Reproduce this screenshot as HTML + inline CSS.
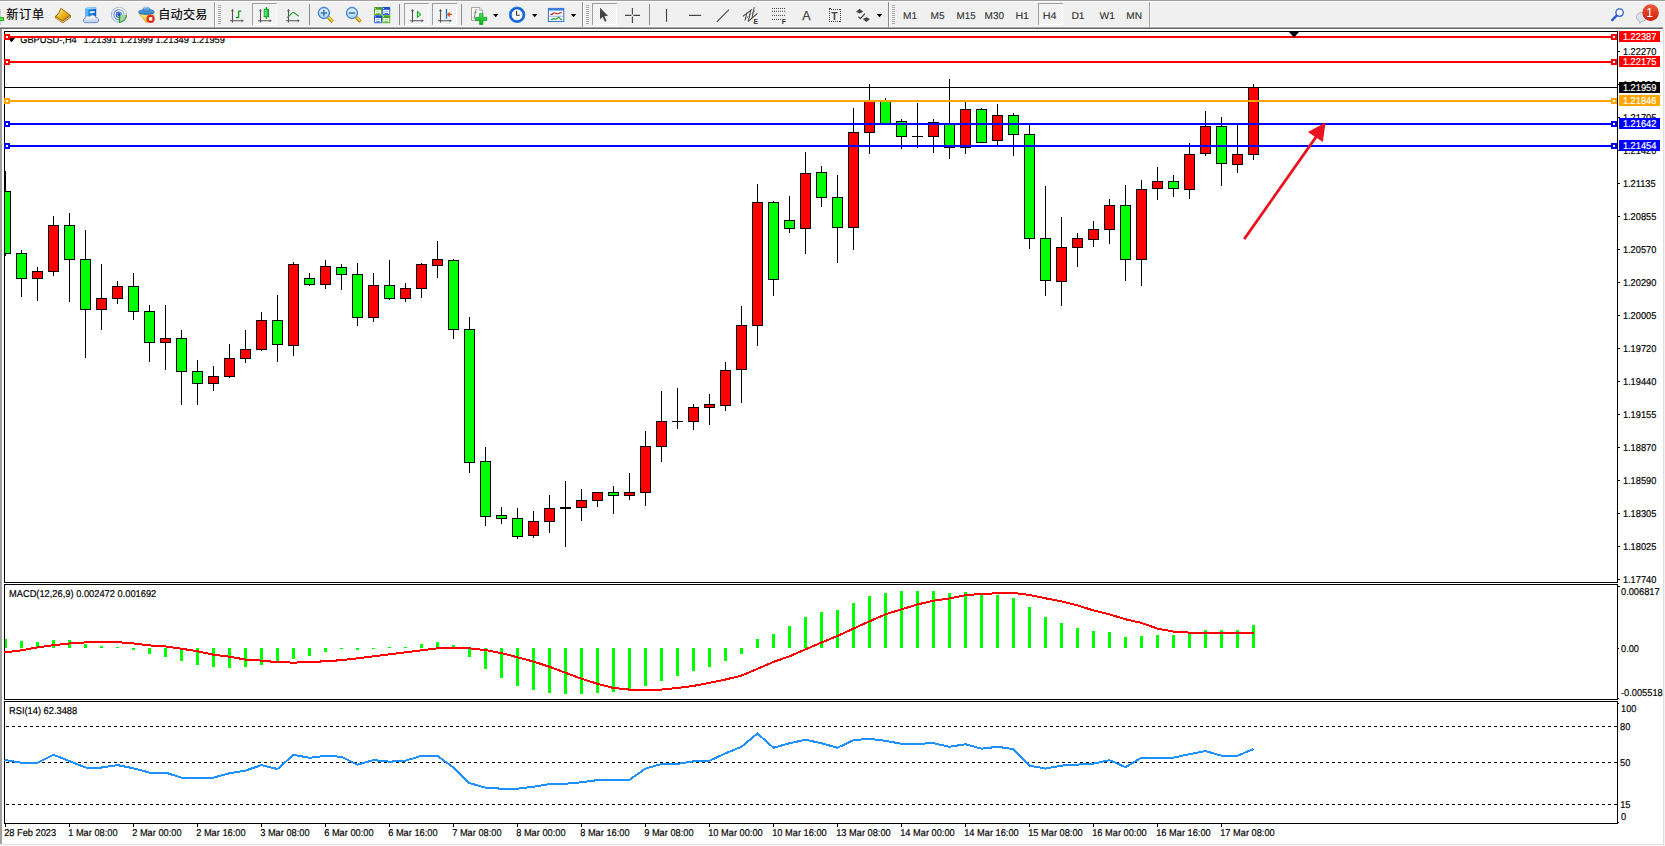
<!DOCTYPE html>
<html lang="zh-CN">
<head>
<meta charset="utf-8">
<title>GBPUSD-,H4</title>
<style>
html,body{margin:0;padding:0;background:#fff;}
body{width:1665px;height:846px;position:relative;overflow:hidden;font-family:"Liberation Sans","Noto Sans CJK SC",sans-serif;}
svg text{white-space:pre;}
</style>
</head>
<body>
<svg width="1665" height="846" viewBox="0 0 1665 846" style="position:absolute;left:0;top:0" font-family="'Liberation Sans','Noto Sans CJK SC',sans-serif">
<g shape-rendering="crispEdges">
<rect x="0" y="0" width="1665" height="846" fill="#fff"/>
<rect x="0" y="29" width="2" height="815" fill="#a0a0a0"/>
<rect x="1663" y="29" width="1" height="816" fill="#dedede"/>
<rect x="1664" y="29" width="1" height="817" fill="#f4f4f4"/>
<rect x="0" y="844" width="1663" height="1" fill="#e3e3e3"/>
<rect x="0" y="845" width="1665" height="1" fill="#f7f7f7"/>
<rect x="4" y="31" width="1614" height="1" fill="#000"/>
<rect x="4" y="582" width="1614" height="1" fill="#000"/>
<rect x="4" y="31" width="1" height="552" fill="#000"/>
<rect x="1617" y="31" width="1" height="552" fill="#000"/>
<rect x="4" y="584" width="1614" height="1" fill="#000"/>
<rect x="4" y="699" width="1614" height="1" fill="#000"/>
<rect x="4" y="584" width="1" height="116" fill="#000"/>
<rect x="1617" y="584" width="1" height="116" fill="#000"/>
<rect x="4" y="701" width="1614" height="1" fill="#000"/>
<rect x="4" y="823" width="1614" height="1" fill="#000"/>
<rect x="4" y="701" width="1" height="123" fill="#000"/>
<rect x="1617" y="701" width="1" height="123" fill="#000"/>
</g>
<text transform="translate(20.2 43) rotate(0.03) scale(0.935 1)" font-size="9.9" fill="#000" stroke="#000" stroke-width="0.18" text-anchor="start">GBPUSD-,H4</text>
<text transform="translate(83.4 43) rotate(0.03) scale(0.935 1)" font-size="9.9" fill="#000" stroke="#000" stroke-width="0.18" text-anchor="start">1.21391</text>
<text transform="translate(119.4 43) rotate(0.03) scale(0.935 1)" font-size="9.9" fill="#000" stroke="#000" stroke-width="0.18" text-anchor="start">1.21999</text>
<text transform="translate(155.4 43) rotate(0.03) scale(0.935 1)" font-size="9.9" fill="#000" stroke="#000" stroke-width="0.18" text-anchor="start">1.21349</text>
<text transform="translate(191.4 43) rotate(0.03) scale(0.935 1)" font-size="9.9" fill="#000" stroke="#000" stroke-width="0.18" text-anchor="start">1.21959</text>
<path d="M7.6 37.8h7.8l-3.9 4.4z" fill="#000"/>
<g shape-rendering="crispEdges">
<rect x="5" y="171" width="1" height="85" fill="#000"/>
<rect x="5" y="191" width="6" height="63" fill="#000"/>
<rect x="5" y="192" width="5" height="61" fill="#00ff00"/>
<rect x="21" y="250" width="1" height="47" fill="#000"/>
<rect x="16" y="253" width="11" height="26" fill="#000"/>
<rect x="17" y="254" width="9" height="24" fill="#00ff00"/>
<rect x="37" y="267" width="1" height="34" fill="#000"/>
<rect x="32" y="271" width="11" height="8" fill="#000"/>
<rect x="33" y="272" width="9" height="6" fill="#ff0000"/>
<rect x="53" y="216" width="1" height="60" fill="#000"/>
<rect x="48" y="225" width="11" height="47" fill="#000"/>
<rect x="49" y="226" width="9" height="45" fill="#ff0000"/>
<rect x="69" y="213" width="1" height="89" fill="#000"/>
<rect x="64" y="225" width="11" height="35" fill="#000"/>
<rect x="65" y="226" width="9" height="33" fill="#00ff00"/>
<rect x="85" y="230" width="1" height="128" fill="#000"/>
<rect x="80" y="259" width="11" height="51" fill="#000"/>
<rect x="81" y="260" width="9" height="49" fill="#00ff00"/>
<rect x="101" y="264" width="1" height="66" fill="#000"/>
<rect x="96" y="298" width="11" height="12" fill="#000"/>
<rect x="97" y="299" width="9" height="10" fill="#ff0000"/>
<rect x="117" y="281" width="1" height="23" fill="#000"/>
<rect x="112" y="286" width="11" height="13" fill="#000"/>
<rect x="113" y="287" width="9" height="11" fill="#ff0000"/>
<rect x="133" y="273" width="1" height="47" fill="#000"/>
<rect x="128" y="286" width="11" height="26" fill="#000"/>
<rect x="129" y="287" width="9" height="24" fill="#00ff00"/>
<rect x="149" y="305" width="1" height="57" fill="#000"/>
<rect x="144" y="311" width="11" height="32" fill="#000"/>
<rect x="145" y="312" width="9" height="30" fill="#00ff00"/>
<rect x="165" y="305" width="1" height="65" fill="#000"/>
<rect x="160" y="338" width="11" height="5" fill="#000"/>
<rect x="161" y="339" width="9" height="3" fill="#ff0000"/>
<rect x="181" y="330" width="1" height="75" fill="#000"/>
<rect x="176" y="338" width="11" height="34" fill="#000"/>
<rect x="177" y="339" width="9" height="32" fill="#00ff00"/>
<rect x="197" y="360" width="1" height="45" fill="#000"/>
<rect x="192" y="371" width="11" height="13" fill="#000"/>
<rect x="193" y="372" width="9" height="11" fill="#00ff00"/>
<rect x="213" y="366" width="1" height="25" fill="#000"/>
<rect x="208" y="376" width="11" height="8" fill="#000"/>
<rect x="209" y="377" width="9" height="6" fill="#ff0000"/>
<rect x="229" y="344" width="1" height="34" fill="#000"/>
<rect x="224" y="358" width="11" height="19" fill="#000"/>
<rect x="225" y="359" width="9" height="17" fill="#ff0000"/>
<rect x="245" y="330" width="1" height="33" fill="#000"/>
<rect x="240" y="349" width="11" height="10" fill="#000"/>
<rect x="241" y="350" width="9" height="8" fill="#ff0000"/>
<rect x="261" y="312" width="1" height="39" fill="#000"/>
<rect x="256" y="320" width="11" height="30" fill="#000"/>
<rect x="257" y="321" width="9" height="28" fill="#ff0000"/>
<rect x="277" y="295" width="1" height="67" fill="#000"/>
<rect x="272" y="320" width="11" height="25" fill="#000"/>
<rect x="273" y="321" width="9" height="23" fill="#00ff00"/>
<rect x="293" y="262" width="1" height="94" fill="#000"/>
<rect x="288" y="264" width="11" height="82" fill="#000"/>
<rect x="289" y="265" width="9" height="80" fill="#ff0000"/>
<rect x="309" y="273" width="1" height="13" fill="#000"/>
<rect x="304" y="278" width="11" height="7" fill="#000"/>
<rect x="305" y="279" width="9" height="5" fill="#00ff00"/>
<rect x="325" y="260" width="1" height="29" fill="#000"/>
<rect x="320" y="266" width="11" height="19" fill="#000"/>
<rect x="321" y="267" width="9" height="17" fill="#ff0000"/>
<rect x="341" y="264" width="1" height="26" fill="#000"/>
<rect x="336" y="267" width="11" height="8" fill="#000"/>
<rect x="337" y="268" width="9" height="6" fill="#00ff00"/>
<rect x="357" y="263" width="1" height="63" fill="#000"/>
<rect x="352" y="274" width="11" height="44" fill="#000"/>
<rect x="353" y="275" width="9" height="42" fill="#00ff00"/>
<rect x="373" y="273" width="1" height="49" fill="#000"/>
<rect x="368" y="285" width="11" height="33" fill="#000"/>
<rect x="369" y="286" width="9" height="31" fill="#ff0000"/>
<rect x="389" y="260" width="1" height="40" fill="#000"/>
<rect x="384" y="285" width="11" height="14" fill="#000"/>
<rect x="385" y="286" width="9" height="12" fill="#00ff00"/>
<rect x="405" y="283" width="1" height="19" fill="#000"/>
<rect x="400" y="288" width="11" height="11" fill="#000"/>
<rect x="401" y="289" width="9" height="9" fill="#ff0000"/>
<rect x="421" y="263" width="1" height="35" fill="#000"/>
<rect x="416" y="264" width="11" height="25" fill="#000"/>
<rect x="417" y="265" width="9" height="23" fill="#ff0000"/>
<rect x="437" y="241" width="1" height="37" fill="#000"/>
<rect x="432" y="259" width="11" height="7" fill="#000"/>
<rect x="433" y="260" width="9" height="5" fill="#ff0000"/>
<rect x="453" y="259" width="1" height="80" fill="#000"/>
<rect x="448" y="260" width="11" height="70" fill="#000"/>
<rect x="449" y="261" width="9" height="68" fill="#00ff00"/>
<rect x="469" y="317" width="1" height="156" fill="#000"/>
<rect x="464" y="329" width="11" height="134" fill="#000"/>
<rect x="465" y="330" width="9" height="132" fill="#00ff00"/>
<rect x="485" y="447" width="1" height="79" fill="#000"/>
<rect x="480" y="461" width="11" height="56" fill="#000"/>
<rect x="481" y="462" width="9" height="54" fill="#00ff00"/>
<rect x="501" y="507" width="1" height="17" fill="#000"/>
<rect x="496" y="515" width="11" height="4" fill="#000"/>
<rect x="497" y="516" width="9" height="2" fill="#00ff00"/>
<rect x="517" y="508" width="1" height="31" fill="#000"/>
<rect x="512" y="518" width="11" height="19" fill="#000"/>
<rect x="513" y="519" width="9" height="17" fill="#00ff00"/>
<rect x="533" y="511" width="1" height="27" fill="#000"/>
<rect x="528" y="521" width="11" height="15" fill="#000"/>
<rect x="529" y="522" width="9" height="13" fill="#ff0000"/>
<rect x="549" y="495" width="1" height="38" fill="#000"/>
<rect x="544" y="508" width="11" height="14" fill="#000"/>
<rect x="545" y="509" width="9" height="12" fill="#ff0000"/>
<rect x="565" y="481" width="1" height="66" fill="#000"/>
<rect x="560" y="507" width="11" height="2" fill="#000"/>
<rect x="581" y="489" width="1" height="32" fill="#000"/>
<rect x="576" y="500" width="11" height="8" fill="#000"/>
<rect x="577" y="501" width="9" height="6" fill="#ff0000"/>
<rect x="597" y="492" width="1" height="15" fill="#000"/>
<rect x="592" y="492" width="11" height="9" fill="#000"/>
<rect x="593" y="493" width="9" height="7" fill="#ff0000"/>
<rect x="613" y="486" width="1" height="28" fill="#000"/>
<rect x="608" y="492" width="11" height="4" fill="#000"/>
<rect x="609" y="493" width="9" height="2" fill="#00ff00"/>
<rect x="629" y="473" width="1" height="27" fill="#000"/>
<rect x="624" y="492" width="11" height="4" fill="#000"/>
<rect x="625" y="493" width="9" height="2" fill="#ff0000"/>
<rect x="645" y="431" width="1" height="75" fill="#000"/>
<rect x="640" y="446" width="11" height="47" fill="#000"/>
<rect x="641" y="447" width="9" height="45" fill="#ff0000"/>
<rect x="661" y="391" width="1" height="71" fill="#000"/>
<rect x="656" y="421" width="11" height="26" fill="#000"/>
<rect x="657" y="422" width="9" height="24" fill="#ff0000"/>
<rect x="677" y="388" width="1" height="41" fill="#000"/>
<rect x="672" y="421" width="11" height="1" fill="#000"/>
<rect x="693" y="404" width="1" height="26" fill="#000"/>
<rect x="688" y="407" width="11" height="15" fill="#000"/>
<rect x="689" y="408" width="9" height="13" fill="#ff0000"/>
<rect x="709" y="394" width="1" height="31" fill="#000"/>
<rect x="704" y="404" width="11" height="4" fill="#000"/>
<rect x="705" y="405" width="9" height="2" fill="#ff0000"/>
<rect x="725" y="362" width="1" height="49" fill="#000"/>
<rect x="720" y="370" width="11" height="36" fill="#000"/>
<rect x="721" y="371" width="9" height="34" fill="#ff0000"/>
<rect x="741" y="306" width="1" height="97" fill="#000"/>
<rect x="736" y="325" width="11" height="45" fill="#000"/>
<rect x="737" y="326" width="9" height="43" fill="#ff0000"/>
<rect x="757" y="184" width="1" height="162" fill="#000"/>
<rect x="752" y="202" width="11" height="124" fill="#000"/>
<rect x="753" y="203" width="9" height="122" fill="#ff0000"/>
<rect x="773" y="201" width="1" height="95" fill="#000"/>
<rect x="768" y="202" width="11" height="78" fill="#000"/>
<rect x="769" y="203" width="9" height="76" fill="#00ff00"/>
<rect x="789" y="196" width="1" height="37" fill="#000"/>
<rect x="784" y="220" width="11" height="9" fill="#000"/>
<rect x="785" y="221" width="9" height="7" fill="#00ff00"/>
<rect x="805" y="152" width="1" height="102" fill="#000"/>
<rect x="800" y="173" width="11" height="56" fill="#000"/>
<rect x="801" y="174" width="9" height="54" fill="#ff0000"/>
<rect x="821" y="166" width="1" height="41" fill="#000"/>
<rect x="816" y="172" width="11" height="26" fill="#000"/>
<rect x="817" y="173" width="9" height="24" fill="#00ff00"/>
<rect x="837" y="175" width="1" height="88" fill="#000"/>
<rect x="832" y="197" width="11" height="31" fill="#000"/>
<rect x="833" y="198" width="9" height="29" fill="#00ff00"/>
<rect x="853" y="108" width="1" height="142" fill="#000"/>
<rect x="848" y="132" width="11" height="96" fill="#000"/>
<rect x="849" y="133" width="9" height="94" fill="#ff0000"/>
<rect x="869" y="84" width="1" height="70" fill="#000"/>
<rect x="864" y="101" width="11" height="32" fill="#000"/>
<rect x="865" y="102" width="9" height="30" fill="#ff0000"/>
<rect x="885" y="98" width="1" height="27" fill="#000"/>
<rect x="880" y="101" width="11" height="24" fill="#000"/>
<rect x="881" y="102" width="9" height="22" fill="#00ff00"/>
<rect x="901" y="119" width="1" height="30" fill="#000"/>
<rect x="896" y="121" width="11" height="16" fill="#000"/>
<rect x="897" y="122" width="9" height="14" fill="#00ff00"/>
<rect x="917" y="103" width="1" height="45" fill="#000"/>
<rect x="912" y="136" width="11" height="1" fill="#000"/>
<rect x="933" y="119" width="1" height="34" fill="#000"/>
<rect x="928" y="122" width="11" height="15" fill="#000"/>
<rect x="929" y="123" width="9" height="13" fill="#ff0000"/>
<rect x="949" y="79" width="1" height="80" fill="#000"/>
<rect x="944" y="124" width="11" height="24" fill="#000"/>
<rect x="945" y="125" width="9" height="22" fill="#00ff00"/>
<rect x="965" y="102" width="1" height="52" fill="#000"/>
<rect x="960" y="109" width="11" height="39" fill="#000"/>
<rect x="961" y="110" width="9" height="37" fill="#ff0000"/>
<rect x="981" y="108" width="1" height="35" fill="#000"/>
<rect x="976" y="109" width="11" height="34" fill="#000"/>
<rect x="977" y="110" width="9" height="32" fill="#00ff00"/>
<rect x="997" y="104" width="1" height="43" fill="#000"/>
<rect x="992" y="115" width="11" height="26" fill="#000"/>
<rect x="993" y="116" width="9" height="24" fill="#ff0000"/>
<rect x="1013" y="113" width="1" height="43" fill="#000"/>
<rect x="1008" y="115" width="11" height="20" fill="#000"/>
<rect x="1009" y="116" width="9" height="18" fill="#00ff00"/>
<rect x="1029" y="125" width="1" height="124" fill="#000"/>
<rect x="1024" y="134" width="11" height="105" fill="#000"/>
<rect x="1025" y="135" width="9" height="103" fill="#00ff00"/>
<rect x="1045" y="186" width="1" height="110" fill="#000"/>
<rect x="1040" y="238" width="11" height="43" fill="#000"/>
<rect x="1041" y="239" width="9" height="41" fill="#00ff00"/>
<rect x="1061" y="217" width="1" height="89" fill="#000"/>
<rect x="1056" y="247" width="11" height="35" fill="#000"/>
<rect x="1057" y="248" width="9" height="33" fill="#ff0000"/>
<rect x="1077" y="233" width="1" height="34" fill="#000"/>
<rect x="1072" y="238" width="11" height="10" fill="#000"/>
<rect x="1073" y="239" width="9" height="8" fill="#ff0000"/>
<rect x="1093" y="221" width="1" height="26" fill="#000"/>
<rect x="1088" y="229" width="11" height="11" fill="#000"/>
<rect x="1089" y="230" width="9" height="9" fill="#ff0000"/>
<rect x="1109" y="199" width="1" height="45" fill="#000"/>
<rect x="1104" y="205" width="11" height="25" fill="#000"/>
<rect x="1105" y="206" width="9" height="23" fill="#ff0000"/>
<rect x="1125" y="185" width="1" height="96" fill="#000"/>
<rect x="1120" y="205" width="11" height="55" fill="#000"/>
<rect x="1121" y="206" width="9" height="53" fill="#00ff00"/>
<rect x="1141" y="180" width="1" height="106" fill="#000"/>
<rect x="1136" y="189" width="11" height="71" fill="#000"/>
<rect x="1137" y="190" width="9" height="69" fill="#ff0000"/>
<rect x="1157" y="167" width="1" height="33" fill="#000"/>
<rect x="1152" y="181" width="11" height="8" fill="#000"/>
<rect x="1153" y="182" width="9" height="6" fill="#ff0000"/>
<rect x="1173" y="175" width="1" height="22" fill="#000"/>
<rect x="1168" y="181" width="11" height="8" fill="#000"/>
<rect x="1169" y="182" width="9" height="6" fill="#00ff00"/>
<rect x="1189" y="143" width="1" height="56" fill="#000"/>
<rect x="1184" y="154" width="11" height="36" fill="#000"/>
<rect x="1185" y="155" width="9" height="34" fill="#ff0000"/>
<rect x="1205" y="111" width="1" height="45" fill="#000"/>
<rect x="1200" y="126" width="11" height="28" fill="#000"/>
<rect x="1201" y="127" width="9" height="26" fill="#ff0000"/>
<rect x="1221" y="117" width="1" height="69" fill="#000"/>
<rect x="1216" y="126" width="11" height="38" fill="#000"/>
<rect x="1217" y="127" width="9" height="36" fill="#00ff00"/>
<rect x="1237" y="123" width="1" height="50" fill="#000"/>
<rect x="1232" y="154" width="11" height="11" fill="#000"/>
<rect x="1233" y="155" width="9" height="9" fill="#ff0000"/>
<rect x="1253" y="84" width="1" height="76" fill="#000"/>
<rect x="1248" y="87" width="11" height="68" fill="#000"/>
<rect x="1249" y="88" width="9" height="66" fill="#ff0000"/>
<rect x="5" y="36" width="1612" height="2" fill="#ff0000"/>
<rect x="4" y="34" width="6" height="6" fill="#ff0000"/>
<rect x="6" y="36" width="2" height="2" fill="#fff"/>
<rect x="1611" y="34" width="6" height="6" fill="#ff0000"/>
<rect x="1613" y="36" width="2" height="2" fill="#fff"/>
<rect x="5" y="61" width="1612" height="2" fill="#ff0000"/>
<rect x="4" y="59" width="6" height="6" fill="#ff0000"/>
<rect x="6" y="61" width="2" height="2" fill="#fff"/>
<rect x="1611" y="59" width="6" height="6" fill="#ff0000"/>
<rect x="1613" y="61" width="2" height="2" fill="#fff"/>
<rect x="5" y="100" width="1612" height="2" fill="#ffa500"/>
<rect x="4" y="98" width="6" height="6" fill="#ffa500"/>
<rect x="6" y="100" width="2" height="2" fill="#fff"/>
<rect x="1611" y="98" width="6" height="6" fill="#ffa500"/>
<rect x="1613" y="100" width="2" height="2" fill="#fff"/>
<rect x="5" y="123" width="1612" height="2" fill="#0000ff"/>
<rect x="4" y="121" width="6" height="6" fill="#0000ff"/>
<rect x="6" y="123" width="2" height="2" fill="#fff"/>
<rect x="1611" y="121" width="6" height="6" fill="#0000ff"/>
<rect x="1613" y="123" width="2" height="2" fill="#fff"/>
<rect x="5" y="145" width="1612" height="2" fill="#0000ff"/>
<rect x="4" y="143" width="6" height="6" fill="#0000ff"/>
<rect x="6" y="145" width="2" height="2" fill="#fff"/>
<rect x="1611" y="143" width="6" height="6" fill="#0000ff"/>
<rect x="1613" y="145" width="2" height="2" fill="#fff"/>
<rect x="5" y="87" width="1612" height="1" fill="#000"/>
</g>
<path d="M1289 32h10l-5 5.5z" fill="#000"/>
<g fill="#e9141f" stroke="none">
<path d="M1243.1 238.3 L1245.3 239.9 L1317.4 137.6 L1315.0 135.9 Z"/>
<path d="M1325.6 122.6 L1307.9 131.9 L1322.8 142.0 Z"/>
</g>
<g shape-rendering="crispEdges">
<rect x="1618" y="51" width="2" height="1" fill="#000"/>
<rect x="1618" y="84" width="2" height="1" fill="#000"/>
<rect x="1618" y="117" width="2" height="1" fill="#000"/>
<rect x="1618" y="150" width="2" height="1" fill="#000"/>
<rect x="1618" y="183" width="2" height="1" fill="#000"/>
<rect x="1618" y="216" width="2" height="1" fill="#000"/>
<rect x="1618" y="249" width="2" height="1" fill="#000"/>
<rect x="1618" y="282" width="2" height="1" fill="#000"/>
<rect x="1618" y="315" width="2" height="1" fill="#000"/>
<rect x="1618" y="348" width="2" height="1" fill="#000"/>
<rect x="1618" y="381" width="2" height="1" fill="#000"/>
<rect x="1618" y="414" width="2" height="1" fill="#000"/>
<rect x="1618" y="447" width="2" height="1" fill="#000"/>
<rect x="1618" y="480" width="2" height="1" fill="#000"/>
<rect x="1618" y="513" width="2" height="1" fill="#000"/>
<rect x="1618" y="546" width="2" height="1" fill="#000"/>
<rect x="1618" y="579" width="2" height="1" fill="#000"/>
</g>
<text transform="translate(1622.9 55) rotate(0.03) scale(0.935 1)" font-size="9.9" fill="#000" stroke="#000" stroke-width="0.18" text-anchor="start">1.22270</text>
<text transform="translate(1622.9 88) rotate(0.03) scale(0.935 1)" font-size="9.9" fill="#000" stroke="#000" stroke-width="0.18" text-anchor="start">1.21990</text>
<text transform="translate(1622.9 121) rotate(0.03) scale(0.935 1)" font-size="9.9" fill="#000" stroke="#000" stroke-width="0.18" text-anchor="start">1.21705</text>
<text transform="translate(1622.9 154) rotate(0.03) scale(0.935 1)" font-size="9.9" fill="#000" stroke="#000" stroke-width="0.18" text-anchor="start">1.21420</text>
<text transform="translate(1622.9 187) rotate(0.03) scale(0.935 1)" font-size="9.9" fill="#000" stroke="#000" stroke-width="0.18" text-anchor="start">1.21135</text>
<text transform="translate(1622.9 220) rotate(0.03) scale(0.935 1)" font-size="9.9" fill="#000" stroke="#000" stroke-width="0.18" text-anchor="start">1.20855</text>
<text transform="translate(1622.9 253) rotate(0.03) scale(0.935 1)" font-size="9.9" fill="#000" stroke="#000" stroke-width="0.18" text-anchor="start">1.20570</text>
<text transform="translate(1622.9 286) rotate(0.03) scale(0.935 1)" font-size="9.9" fill="#000" stroke="#000" stroke-width="0.18" text-anchor="start">1.20290</text>
<text transform="translate(1622.9 319) rotate(0.03) scale(0.935 1)" font-size="9.9" fill="#000" stroke="#000" stroke-width="0.18" text-anchor="start">1.20005</text>
<text transform="translate(1622.9 352) rotate(0.03) scale(0.935 1)" font-size="9.9" fill="#000" stroke="#000" stroke-width="0.18" text-anchor="start">1.19720</text>
<text transform="translate(1622.9 385) rotate(0.03) scale(0.935 1)" font-size="9.9" fill="#000" stroke="#000" stroke-width="0.18" text-anchor="start">1.19440</text>
<text transform="translate(1622.9 418) rotate(0.03) scale(0.935 1)" font-size="9.9" fill="#000" stroke="#000" stroke-width="0.18" text-anchor="start">1.19155</text>
<text transform="translate(1622.9 451) rotate(0.03) scale(0.935 1)" font-size="9.9" fill="#000" stroke="#000" stroke-width="0.18" text-anchor="start">1.18870</text>
<text transform="translate(1622.9 484) rotate(0.03) scale(0.935 1)" font-size="9.9" fill="#000" stroke="#000" stroke-width="0.18" text-anchor="start">1.18590</text>
<text transform="translate(1622.9 517) rotate(0.03) scale(0.935 1)" font-size="9.9" fill="#000" stroke="#000" stroke-width="0.18" text-anchor="start">1.18305</text>
<text transform="translate(1622.9 550) rotate(0.03) scale(0.935 1)" font-size="9.9" fill="#000" stroke="#000" stroke-width="0.18" text-anchor="start">1.18025</text>
<text transform="translate(1622.9 583) rotate(0.03) scale(0.935 1)" font-size="9.9" fill="#000" stroke="#000" stroke-width="0.18" text-anchor="start">1.17740</text>
<g shape-rendering="crispEdges">
<rect x="1619" y="31" width="41" height="11" fill="#ff0000"/>
<rect x="1619" y="56" width="41" height="11" fill="#ff0000"/>
<rect x="1619" y="82" width="41" height="11" fill="#000000"/>
<rect x="1619" y="95" width="41" height="11" fill="#ffa500"/>
<rect x="1619" y="118" width="41" height="11" fill="#0000ff"/>
<rect x="1619" y="140" width="41" height="11" fill="#0000ff"/>
</g>
<text transform="translate(1622.9 40) rotate(0.03) scale(0.935 1)" font-size="9.9" fill="#fff" stroke="#fff" stroke-width="0.18" text-anchor="start">1.22387</text>
<text transform="translate(1622.9 65) rotate(0.03) scale(0.935 1)" font-size="9.9" fill="#fff" stroke="#fff" stroke-width="0.18" text-anchor="start">1.22175</text>
<text transform="translate(1622.9 91) rotate(0.03) scale(0.935 1)" font-size="9.9" fill="#fff" stroke="#fff" stroke-width="0.18" text-anchor="start">1.21959</text>
<text transform="translate(1622.9 104) rotate(0.03) scale(0.935 1)" font-size="9.9" fill="#fff" stroke="#fff" stroke-width="0.18" text-anchor="start">1.21846</text>
<text transform="translate(1622.9 127) rotate(0.03) scale(0.935 1)" font-size="9.9" fill="#fff" stroke="#fff" stroke-width="0.18" text-anchor="start">1.21642</text>
<text transform="translate(1622.9 149) rotate(0.03) scale(0.935 1)" font-size="9.9" fill="#fff" stroke="#fff" stroke-width="0.18" text-anchor="start">1.21454</text>
<g shape-rendering="crispEdges">
<rect x="5" y="639" width="2" height="9" fill="#00ff00"/>
<rect x="20" y="641" width="3" height="7" fill="#00ff00"/>
<rect x="36" y="642" width="3" height="6" fill="#00ff00"/>
<rect x="52" y="640" width="3" height="8" fill="#00ff00"/>
<rect x="68" y="640" width="3" height="8" fill="#00ff00"/>
<rect x="84" y="644" width="3" height="4" fill="#00ff00"/>
<rect x="100" y="646" width="3" height="2" fill="#00ff00"/>
<rect x="116" y="647" width="3" height="1" fill="#00ff00"/>
<rect x="132" y="648" width="3" height="2" fill="#00ff00"/>
<rect x="148" y="648" width="3" height="6" fill="#00ff00"/>
<rect x="164" y="648" width="3" height="9" fill="#00ff00"/>
<rect x="180" y="648" width="3" height="13" fill="#00ff00"/>
<rect x="196" y="648" width="3" height="17" fill="#00ff00"/>
<rect x="212" y="648" width="3" height="19" fill="#00ff00"/>
<rect x="228" y="648" width="3" height="20" fill="#00ff00"/>
<rect x="244" y="648" width="3" height="19" fill="#00ff00"/>
<rect x="260" y="648" width="3" height="17" fill="#00ff00"/>
<rect x="276" y="648" width="3" height="15" fill="#00ff00"/>
<rect x="292" y="648" width="3" height="11" fill="#00ff00"/>
<rect x="308" y="648" width="3" height="8" fill="#00ff00"/>
<rect x="324" y="648" width="3" height="4" fill="#00ff00"/>
<rect x="340" y="648" width="3" height="1" fill="#00ff00"/>
<rect x="356" y="648" width="3" height="2" fill="#00ff00"/>
<rect x="372" y="648" width="3" height="1" fill="#00ff00"/>
<rect x="388" y="647" width="3" height="1" fill="#00ff00"/>
<rect x="404" y="647" width="3" height="1" fill="#00ff00"/>
<rect x="420" y="644" width="3" height="4" fill="#00ff00"/>
<rect x="436" y="642" width="3" height="6" fill="#00ff00"/>
<rect x="452" y="645" width="3" height="3" fill="#00ff00"/>
<rect x="468" y="648" width="3" height="9" fill="#00ff00"/>
<rect x="484" y="648" width="3" height="21" fill="#00ff00"/>
<rect x="500" y="648" width="3" height="30" fill="#00ff00"/>
<rect x="516" y="648" width="3" height="38" fill="#00ff00"/>
<rect x="532" y="648" width="3" height="42" fill="#00ff00"/>
<rect x="548" y="648" width="3" height="45" fill="#00ff00"/>
<rect x="564" y="648" width="3" height="46" fill="#00ff00"/>
<rect x="580" y="648" width="3" height="46" fill="#00ff00"/>
<rect x="596" y="648" width="3" height="45" fill="#00ff00"/>
<rect x="612" y="648" width="3" height="44" fill="#00ff00"/>
<rect x="628" y="648" width="3" height="42" fill="#00ff00"/>
<rect x="644" y="648" width="3" height="38" fill="#00ff00"/>
<rect x="660" y="648" width="3" height="33" fill="#00ff00"/>
<rect x="676" y="648" width="3" height="28" fill="#00ff00"/>
<rect x="692" y="648" width="3" height="23" fill="#00ff00"/>
<rect x="708" y="648" width="3" height="19" fill="#00ff00"/>
<rect x="724" y="648" width="3" height="13" fill="#00ff00"/>
<rect x="740" y="648" width="3" height="6" fill="#00ff00"/>
<rect x="756" y="639" width="3" height="9" fill="#00ff00"/>
<rect x="772" y="634" width="3" height="14" fill="#00ff00"/>
<rect x="788" y="626" width="3" height="22" fill="#00ff00"/>
<rect x="804" y="617" width="3" height="31" fill="#00ff00"/>
<rect x="820" y="612" width="3" height="36" fill="#00ff00"/>
<rect x="836" y="610" width="3" height="38" fill="#00ff00"/>
<rect x="852" y="603" width="3" height="45" fill="#00ff00"/>
<rect x="868" y="596" width="3" height="52" fill="#00ff00"/>
<rect x="884" y="593" width="3" height="55" fill="#00ff00"/>
<rect x="900" y="591" width="3" height="57" fill="#00ff00"/>
<rect x="916" y="591" width="3" height="57" fill="#00ff00"/>
<rect x="932" y="591" width="3" height="57" fill="#00ff00"/>
<rect x="948" y="593" width="3" height="55" fill="#00ff00"/>
<rect x="964" y="592" width="3" height="56" fill="#00ff00"/>
<rect x="980" y="594" width="3" height="54" fill="#00ff00"/>
<rect x="996" y="595" width="3" height="53" fill="#00ff00"/>
<rect x="1012" y="598" width="3" height="50" fill="#00ff00"/>
<rect x="1028" y="607" width="3" height="41" fill="#00ff00"/>
<rect x="1044" y="617" width="3" height="31" fill="#00ff00"/>
<rect x="1060" y="623" width="3" height="25" fill="#00ff00"/>
<rect x="1076" y="628" width="3" height="20" fill="#00ff00"/>
<rect x="1092" y="631" width="3" height="17" fill="#00ff00"/>
<rect x="1108" y="632" width="3" height="16" fill="#00ff00"/>
<rect x="1124" y="637" width="3" height="11" fill="#00ff00"/>
<rect x="1140" y="636" width="3" height="12" fill="#00ff00"/>
<rect x="1156" y="635" width="3" height="13" fill="#00ff00"/>
<rect x="1172" y="635" width="3" height="13" fill="#00ff00"/>
<rect x="1188" y="633" width="3" height="15" fill="#00ff00"/>
<rect x="1204" y="630" width="3" height="18" fill="#00ff00"/>
<rect x="1220" y="630" width="3" height="18" fill="#00ff00"/>
<rect x="1236" y="630" width="3" height="18" fill="#00ff00"/>
<rect x="1252" y="625" width="3" height="23" fill="#00ff00"/>
<polyline points="4.5,652.4 5.5,652.3 21.5,650.3 37.5,647.4 53.5,645.2 69.5,643.4 85.5,642.4 101.5,641.8 117.5,642.2 133.5,643.4 149.5,645.4 165.5,646.4 181.5,648.7 197.5,651.3 213.5,654.7 229.5,656.7 245.5,659.6 261.5,660.6 277.5,662.2 293.5,662.6 309.5,662.2 325.5,661.2 341.5,660.2 357.5,658.3 373.5,656.3 389.5,654.3 405.5,652.3 421.5,650.3 437.5,648.3 453.5,647.9 469.5,648.3 485.5,650.1 501.5,653.1 517.5,657.3 533.5,661.6 549.5,666.8 565.5,672.7 581.5,678.7 597.5,683.8 613.5,688.0 629.5,689.6 645.5,689.8 661.5,689.6 677.5,687.9 693.5,685.9 709.5,682.9 725.5,679.5 741.5,675.6 757.5,668.8 773.5,661.9 789.5,656.3 805.5,649.4 821.5,642.5 837.5,635.9 853.5,628.6 869.5,621.3 885.5,614.3 901.5,609.4 917.5,604.4 933.5,600.8 949.5,598.4 965.5,595.2 981.5,593.9 997.5,593.3 1013.5,592.9 1029.5,594.9 1045.5,598.3 1061.5,601.4 1077.5,605.4 1093.5,610.4 1109.5,614.3 1125.5,619.3 1141.5,622.9 1157.5,628.6 1173.5,631.6 1189.5,632.6 1205.5,632.6 1221.5,632.6 1237.5,632.6 1253.5,632.6" fill="none" stroke="#ff0000" stroke-width="2" stroke-linejoin="round"/>
<rect x="1618" y="648" width="1" height="1" fill="#000"/>
<rect x="1618" y="586" width="2" height="1" fill="#000"/>
<rect x="1618" y="698" width="1" height="1" fill="#000"/>
<rect x="1618" y="703" width="1" height="1" fill="#000"/>
</g>
<text transform="translate(9.0 597) rotate(0.03) scale(0.94 1)" font-size="9.9" fill="#000" stroke="#000" stroke-width="0.18" text-anchor="start">MACD(12,26,9) 0.002472 0.001692</text>
<text transform="translate(1621 595) rotate(0.03) scale(0.935 1)" font-size="9.9" fill="#000" stroke="#000" stroke-width="0.18" text-anchor="start">0.006817</text>
<text transform="translate(1621 652) rotate(0.03) scale(0.935 1)" font-size="9.9" fill="#000" stroke="#000" stroke-width="0.18" text-anchor="start">0.00</text>
<text transform="translate(1621 696) rotate(0.03) scale(0.935 1)" font-size="9.9" fill="#000" stroke="#000" stroke-width="0.18" text-anchor="start">-0.005518</text>
<g shape-rendering="crispEdges">
<line x1="5" y1="726.5" x2="1617" y2="726.5" stroke="#000" stroke-width="1" stroke-dasharray="3 3" stroke-dashoffset="5"/>
<line x1="5" y1="762.5" x2="1617" y2="762.5" stroke="#000" stroke-width="1" stroke-dasharray="3 3" stroke-dashoffset="5"/>
<line x1="5" y1="804.5" x2="1617" y2="804.5" stroke="#000" stroke-width="1" stroke-dasharray="3 3" stroke-dashoffset="5"/>
<rect x="1618" y="822" width="1" height="1" fill="#000"/>
<polyline points="4.5,759.9 5.5,760.1 21.5,762.7 37.5,762.7 53.5,754.8 69.5,761.1 85.5,767.5 101.5,767.5 117.5,765.1 133.5,768.3 149.5,772.6 165.5,772.6 181.5,777.6 197.5,777.6 213.5,777.6 229.5,773.2 245.5,770.6 261.5,765.1 277.5,769.0 293.5,754.8 309.5,757.8 325.5,755.8 341.5,756.8 357.5,764.7 373.5,760.1 389.5,761.7 405.5,760.7 421.5,755.8 437.5,755.8 453.5,767.7 469.5,783.1 485.5,787.7 501.5,788.7 517.5,788.7 533.5,786.7 549.5,784.1 565.5,783.7 581.5,782.3 597.5,780.1 613.5,779.8 629.5,779.8 645.5,768.6 661.5,764.0 677.5,764.0 693.5,761.2 709.5,760.8 725.5,753.3 741.5,746.8 757.5,733.5 773.5,747.8 789.5,743.2 805.5,739.8 821.5,743.2 837.5,747.8 853.5,740.2 869.5,738.8 885.5,740.8 901.5,743.8 917.5,743.8 933.5,743.2 949.5,746.8 965.5,744.2 981.5,748.7 997.5,746.8 1013.5,749.1 1029.5,765.6 1045.5,768.6 1061.5,765.6 1077.5,764.6 1093.5,763.6 1109.5,760.2 1125.5,767.2 1141.5,757.7 1157.5,757.7 1173.5,757.7 1189.5,754.1 1205.5,751.1 1221.5,755.7 1237.5,755.7 1253.5,749.1" fill="none" stroke="#1e90ff" stroke-width="2" stroke-linejoin="round"/>
</g>
<text transform="translate(9.0 714) rotate(0.03) scale(0.94 1)" font-size="9.9" fill="#000" stroke="#000" stroke-width="0.18" text-anchor="start">RSI(14) 62.3488</text>
<text transform="translate(1621 712) rotate(0.03) scale(0.935 1)" font-size="9.9" fill="#000" stroke="#000" stroke-width="0.18" text-anchor="start">100</text>
<text transform="translate(1620 730) rotate(0.03) scale(0.935 1)" font-size="9.9" fill="#000" stroke="#000" stroke-width="0.18" text-anchor="start">80</text>
<text transform="translate(1620 766) rotate(0.03) scale(0.935 1)" font-size="9.9" fill="#000" stroke="#000" stroke-width="0.18" text-anchor="start">50</text>
<text transform="translate(1620.2 808) rotate(0.03) scale(0.935 1)" font-size="9.9" fill="#000" stroke="#000" stroke-width="0.18" text-anchor="start">15</text>
<text transform="translate(1621 820) rotate(0.03) scale(0.935 1)" font-size="9.9" fill="#000" stroke="#000" stroke-width="0.18" text-anchor="start">0</text>
<g shape-rendering="crispEdges">
<rect x="5" y="824" width="1" height="3" fill="#000"/>
<rect x="69" y="824" width="1" height="3" fill="#000"/>
<rect x="133" y="824" width="1" height="3" fill="#000"/>
<rect x="197" y="824" width="1" height="3" fill="#000"/>
<rect x="261" y="824" width="1" height="3" fill="#000"/>
<rect x="325" y="824" width="1" height="3" fill="#000"/>
<rect x="389" y="824" width="1" height="3" fill="#000"/>
<rect x="453" y="824" width="1" height="3" fill="#000"/>
<rect x="517" y="824" width="1" height="3" fill="#000"/>
<rect x="581" y="824" width="1" height="3" fill="#000"/>
<rect x="645" y="824" width="1" height="3" fill="#000"/>
<rect x="709" y="824" width="1" height="3" fill="#000"/>
<rect x="773" y="824" width="1" height="3" fill="#000"/>
<rect x="837" y="824" width="1" height="3" fill="#000"/>
<rect x="901" y="824" width="1" height="3" fill="#000"/>
<rect x="965" y="824" width="1" height="3" fill="#000"/>
<rect x="1029" y="824" width="1" height="3" fill="#000"/>
<rect x="1093" y="824" width="1" height="3" fill="#000"/>
<rect x="1157" y="824" width="1" height="3" fill="#000"/>
<rect x="1221" y="824" width="1" height="3" fill="#000"/>
</g>
<text transform="translate(4.2 836) rotate(0.03) scale(0.935 1)" font-size="9.9" fill="#000" stroke="#000" stroke-width="0.18" text-anchor="start">28 Feb 2023</text>
<text transform="translate(68.2 836) rotate(0.03) scale(0.935 1)" font-size="9.9" fill="#000" stroke="#000" stroke-width="0.18" text-anchor="start">1 Mar 08:00</text>
<text transform="translate(132.2 836) rotate(0.03) scale(0.935 1)" font-size="9.9" fill="#000" stroke="#000" stroke-width="0.18" text-anchor="start">2 Mar 00:00</text>
<text transform="translate(196.2 836) rotate(0.03) scale(0.935 1)" font-size="9.9" fill="#000" stroke="#000" stroke-width="0.18" text-anchor="start">2 Mar 16:00</text>
<text transform="translate(260.2 836) rotate(0.03) scale(0.935 1)" font-size="9.9" fill="#000" stroke="#000" stroke-width="0.18" text-anchor="start">3 Mar 08:00</text>
<text transform="translate(324.2 836) rotate(0.03) scale(0.935 1)" font-size="9.9" fill="#000" stroke="#000" stroke-width="0.18" text-anchor="start">6 Mar 00:00</text>
<text transform="translate(388.2 836) rotate(0.03) scale(0.935 1)" font-size="9.9" fill="#000" stroke="#000" stroke-width="0.18" text-anchor="start">6 Mar 16:00</text>
<text transform="translate(452.2 836) rotate(0.03) scale(0.935 1)" font-size="9.9" fill="#000" stroke="#000" stroke-width="0.18" text-anchor="start">7 Mar 08:00</text>
<text transform="translate(516.2 836) rotate(0.03) scale(0.935 1)" font-size="9.9" fill="#000" stroke="#000" stroke-width="0.18" text-anchor="start">8 Mar 00:00</text>
<text transform="translate(580.2 836) rotate(0.03) scale(0.935 1)" font-size="9.9" fill="#000" stroke="#000" stroke-width="0.18" text-anchor="start">8 Mar 16:00</text>
<text transform="translate(644.2 836) rotate(0.03) scale(0.935 1)" font-size="9.9" fill="#000" stroke="#000" stroke-width="0.18" text-anchor="start">9 Mar 08:00</text>
<text transform="translate(708.2 836) rotate(0.03) scale(0.935 1)" font-size="9.9" fill="#000" stroke="#000" stroke-width="0.18" text-anchor="start">10 Mar 00:00</text>
<text transform="translate(772.2 836) rotate(0.03) scale(0.935 1)" font-size="9.9" fill="#000" stroke="#000" stroke-width="0.18" text-anchor="start">10 Mar 16:00</text>
<text transform="translate(836.2 836) rotate(0.03) scale(0.935 1)" font-size="9.9" fill="#000" stroke="#000" stroke-width="0.18" text-anchor="start">13 Mar 08:00</text>
<text transform="translate(900.2 836) rotate(0.03) scale(0.935 1)" font-size="9.9" fill="#000" stroke="#000" stroke-width="0.18" text-anchor="start">14 Mar 00:00</text>
<text transform="translate(964.2 836) rotate(0.03) scale(0.935 1)" font-size="9.9" fill="#000" stroke="#000" stroke-width="0.18" text-anchor="start">14 Mar 16:00</text>
<text transform="translate(1028.2 836) rotate(0.03) scale(0.935 1)" font-size="9.9" fill="#000" stroke="#000" stroke-width="0.18" text-anchor="start">15 Mar 08:00</text>
<text transform="translate(1092.2 836) rotate(0.03) scale(0.935 1)" font-size="9.9" fill="#000" stroke="#000" stroke-width="0.18" text-anchor="start">16 Mar 00:00</text>
<text transform="translate(1156.2 836) rotate(0.03) scale(0.935 1)" font-size="9.9" fill="#000" stroke="#000" stroke-width="0.18" text-anchor="start">16 Mar 16:00</text>
<text transform="translate(1220.2 836) rotate(0.03) scale(0.935 1)" font-size="9.9" fill="#000" stroke="#000" stroke-width="0.18" text-anchor="start">17 Mar 08:00</text>
</svg>
<svg width="1665" height="29" viewBox="0 0 1665 29" style="position:absolute;left:0;top:0" font-family="'Liberation Sans','Noto Sans CJK SC',sans-serif">
<defs>
<linearGradient id="gGold" x1="0" y1="0" x2="1" y2="1"><stop offset="0" stop-color="#fbe36a"/><stop offset="0.55" stop-color="#eab51c"/><stop offset="1" stop-color="#b9780f"/></linearGradient>
<linearGradient id="gBlueBox" x1="0" y1="0" x2="1" y2="0"><stop offset="0" stop-color="#1e8fe8"/><stop offset="1" stop-color="#0b5cc4"/></linearGradient>
<linearGradient id="gCloud" x1="0" y1="0" x2="0" y2="1"><stop offset="0" stop-color="#ffffff"/><stop offset="1" stop-color="#b9c8e6"/></linearGradient>
<linearGradient id="gHat" x1="0" y1="0" x2="0" y2="1"><stop offset="0" stop-color="#6fb4e6"/><stop offset="1" stop-color="#2f7fc4"/></linearGradient>
<linearGradient id="gYel" x1="0" y1="0" x2="0" y2="1"><stop offset="0" stop-color="#fff08a"/><stop offset="1" stop-color="#e6b21a"/></linearGradient>
<linearGradient id="gGreen" x1="0" y1="0" x2="1" y2="0"><stop offset="0" stop-color="#7dffa0"/><stop offset="1" stop-color="#00b428"/></linearGradient>
<linearGradient id="gLens" x1="0" y1="0" x2="0" y2="1"><stop offset="0" stop-color="#e8f6ff"/><stop offset="1" stop-color="#a9d3f5"/></linearGradient>
<linearGradient id="gBadge" x1="0" y1="0" x2="0" y2="1"><stop offset="0" stop-color="#ea5a3a"/><stop offset="1" stop-color="#d0200c"/></linearGradient>
<linearGradient id="gTileG" x1="0" y1="0" x2="0" y2="1"><stop offset="0" stop-color="#3f9a1f"/><stop offset="1" stop-color="#57b432"/></linearGradient>
<linearGradient id="gTileB" x1="0" y1="0" x2="0" y2="1"><stop offset="0" stop-color="#1548c4"/><stop offset="1" stop-color="#3f74e0"/></linearGradient>
<linearGradient id="gPlus" x1="0" y1="0" x2="0" y2="1"><stop offset="0" stop-color="#4be65a"/><stop offset="1" stop-color="#0aa81a"/></linearGradient>
<pattern id="dots" width="2" height="2" patternUnits="userSpaceOnUse"><rect width="2" height="2" fill="#fafafa"/><rect width="1" height="1" fill="#ededed"/><rect x="1" y="1" width="1" height="1" fill="#ededed"/></pattern>
<g id="axes" stroke="#555" stroke-width="1.1"><path d="M2.5 22.6V10M0 20.8H12.4" fill="none"/><path d="M1 11.2L2.5 8.8L4 11.2ZM11.6 19.3L13.8 20.8L11.6 22.3Z" fill="#555" stroke="none"/></g>
<g id="grip" fill="#a8a8a8"><rect x="0" y="5" width="3" height="1"/><rect x="0" y="7" width="3" height="1"/><rect x="0" y="9" width="3" height="1"/><rect x="0" y="11" width="3" height="1"/><rect x="0" y="13" width="3" height="1"/><rect x="0" y="15" width="3" height="1"/><rect x="0" y="17" width="3" height="1"/><rect x="0" y="19" width="3" height="1"/><rect x="0" y="21" width="3" height="1"/><rect x="0" y="23" width="3" height="1"/></g>
<path id="dd" d="M0 0h5.4l-2.7 3.2z" fill="#000"/>
<g id="selbtn"><rect x="0" y="0" width="25" height="22" fill="url(#dots)"/><rect x="0" y="0" width="25" height="1" fill="#a0a0a0"/><rect x="0" y="0" width="1" height="22" fill="#a0a0a0"/><rect x="24" y="1" width="1" height="21" fill="#fff"/><rect x="1" y="21" width="24" height="1" fill="#fff"/></g>
</defs>

<!-- background -->
<g shape-rendering="crispEdges">
<rect x="0" y="0" width="1665" height="29" fill="#f0f0f0"/>
<rect x="0" y="0" width="1665" height="1" fill="#a0a0a0"/>
<rect x="0" y="1" width="1665" height="1" fill="#ffffff"/>
<rect x="0" y="26" width="1665" height="1" fill="#f6f6f6"/>
<rect x="0" y="27" width="1663" height="1" fill="#a3a3a3"/>
<rect x="0" y="28" width="1663" height="1" fill="#696969"/>
<rect x="1663" y="27" width="2" height="2" fill="#f4f4f4"/>
<!-- new order icon remnant -->
<rect x="0" y="9" width="1" height="16" fill="#cfcfcf"/>
<rect x="0" y="17" width="4" height="4" fill="#18b418"/>
<rect x="0" y="18" width="3" height="2" fill="#5fe05f"/>
</g>

<!-- texts -->
<text x="6.2" y="18.5" font-size="12.2" letter-spacing="0.7" fill="#000" stroke="#000" stroke-width="0.15">新订单</text>
<text x="158.2" y="18.5" font-size="12.1" letter-spacing="0.3" fill="#000" stroke="#000" stroke-width="0.15">自动交易</text>

<!-- gold book icon -->
<g>
<path d="M60.7 7.7 L71 15.3 L70.8 17.5 L62.8 23.2 L54.8 17.9 L54.9 16.5 C57.4 14.2 59.3 11.4 60.7 7.7Z" fill="#a4660c"/>
<path d="M61.1 8.9 L69.7 15.3 L62.6 20.2 L56.3 16.5 C58.4 14.4 60 11.8 61.1 8.9Z" fill="url(#gGold)"/>
<path d="M55.6 17.6 L62.7 21.9 L70.2 16.6" fill="none" stroke="#f1d27a" stroke-width="0.9"/>
<path d="M61.6 10.4 C60.6 12.8 59.4 14.6 57.8 16.2" fill="none" stroke="#fff3b0" stroke-width="0.8" opacity="0.8"/>
</g>

<!-- computer + cloud -->
<g>
<path d="M85.4 8.4 L88.6 6.9 L96.2 7.4 L96.2 16.4 L85.4 16.4 Z" fill="url(#gBlueBox)"/>
<path d="M85.4 8.4 L88.4 9.6 L88.4 16.4 L85.4 16.4Z" fill="#5ab8ff"/>
<path d="M88.4 9.6 L96.2 9 L96.2 7.4 L88.6 6.9 L85.4 8.4Z" fill="#8fd0ff"/>
<path d="M89.8 11.4 L94.6 10.9 L94.6 12.9 L89.8 13.3Z" fill="#e4f3ff"/>
<path d="M85.6 22.7 C82.6 22.7 82.4 18.8 85.2 18.3 C85 15.8 88.4 15 89.6 16.7 C90.8 14 95.4 14.6 95.6 17.6 C99.4 17.2 99.8 22.7 96.2 22.7 Z" fill="url(#gCloud)" stroke="#5f86c8" stroke-width="0.9"/>
<path d="M86.2 19.2 C87 17.6 88.6 17.6 89.4 18.4 C90.4 16.2 93.6 16.2 94.4 18.6" fill="none" stroke="#fff" stroke-width="0.9"/>
</g>

<!-- signal icon -->
<g fill="none">
<path d="M119 22.4 A7.6 7.6 0 0 1 119 7.2" stroke="#a9c0ee" stroke-width="1.1"/>
<path d="M119 19.9 A5.1 5.1 0 0 1 119 9.7" stroke="#6f93e4" stroke-width="1.2"/>
<path d="M119 17.5 A2.7 2.7 0 0 1 119 12.1" stroke="#3c68dc" stroke-width="1.2"/>
<path d="M119 7.2 A7.6 7.6 0 0 1 126.6 14.8" stroke="#b4ccd8" stroke-width="1.1"/>
<path d="M119 9.7 A5.1 5.1 0 0 1 124.1 14.8" stroke="#8fb4c8" stroke-width="1.1"/>
<path d="M119 12.1 A2.7 2.7 0 0 1 121.7 14.8" stroke="#5a8ac8" stroke-width="1.1"/>
<path d="M119.4 14.8 L126.8 14.8 A7.6 7.6 0 0 1 119.4 22.5 Z" fill="#8cc68c" fill-opacity="0.8"/>
<path d="M119.6 22.3 A7.5 7.5 0 0 0 126.5 14.8" stroke="#4a9e4a" stroke-width="1.2"/>
<path d="M119.6 19.8 A5 5 0 0 0 124 14.8" stroke="#b8e0b8" stroke-width="1"/>
<circle cx="119" cy="14.5" r="1.7" fill="#1f4fd0"/>
<path d="M119.5 15.6V22.7" stroke="#10a010" stroke-width="1.3"/>
</g>

<!-- hat + stop -->
<g>
<path d="M139.4 14.2 L153.8 14 L146.6 22.8 Z" fill="url(#gYel)" stroke="#d49a10" stroke-width="0.7"/>
<path d="M138.6 12.4 C138.4 10.6 141.2 9.9 142.6 10 C142.8 6.5 150 6.3 150.4 9.9 C152.2 9.6 154.4 10.6 154.2 12.4 C153.8 14.9 139 15.2 138.6 12.4 Z" fill="url(#gHat)" stroke="#2a6cb4" stroke-width="0.7"/>
<path d="M142.8 10.4 C144.6 11.8 148.6 11.8 150.2 10.2" fill="none" stroke="#2a6cb4" stroke-width="0.7"/>
<path d="M144 8.2 C145 7.4 147.6 7.2 148.8 8" fill="none" stroke="#b8dcf4" stroke-width="0.8"/>
<circle cx="150.6" cy="18.9" r="4.1" fill="#d8260e"/>
<circle cx="150.6" cy="18.9" r="3.6" fill="none" stroke="#f0503a" stroke-width="0.5"/>
<rect x="148.9" y="17.2" width="3.4" height="3.4" fill="#fff"/>
</g>

<!-- separator + grip -->
<g shape-rendering="crispEdges">
<rect x="214" y="2" width="1" height="25" fill="#a0a0a0"/><rect x="215" y="2" width="1" height="25" fill="#fbfbfb"/>
<use href="#grip" x="218" y="0"/>
<rect x="309" y="4" width="1" height="21" fill="#8c8c8c"/>
<rect x="399" y="4" width="1" height="21" fill="#8c8c8c"/>
<rect x="461" y="4" width="1" height="21" fill="#8c8c8c"/>
<rect x="582" y="2" width="1" height="25" fill="#8c8c8c"/><rect x="583" y="2" width="1" height="25" fill="#fbfbfb"/>
<use href="#grip" x="586" y="0"/>
<rect x="649" y="4" width="1" height="21" fill="#8c8c8c"/>
<rect x="888" y="2" width="1" height="25" fill="#8c8c8c"/><rect x="889" y="2" width="1" height="25" fill="#fbfbfb"/>
<use href="#grip" x="892" y="0"/>
<rect x="1149" y="2" width="1" height="25" fill="#a0a0a0"/><rect x="1150" y="2" width="1" height="25" fill="#fbfbfb"/>
<!-- selected buttons -->
<use href="#selbtn" x="252" y="3"/>
<use href="#selbtn" x="404" y="3"/>
<use href="#selbtn" x="432" y="3"/>
<use href="#selbtn" x="592" y="3"/>
<use href="#selbtn" x="1038" y="3"/>
</g>

<!-- bar chart icon -->
<use href="#axes" x="230" y="0"/>
<path d="M238.6 10.8V18M238.6 11.2H241.4M238.6 17.6H236" fill="none" stroke="#109a10" stroke-width="1.3"/>
<!-- candle icon -->
<use href="#axes" x="258" y="0"/>
<path d="M266.4 7V18.8" stroke="#0a9a1a" stroke-width="1.2"/>
<rect x="264.2" y="9.2" width="4.4" height="7.6" fill="url(#gGreen)" stroke="#0a9a1a" stroke-width="0.9"/>
<!-- line icon -->
<use href="#axes" x="286" y="0"/>
<path d="M287.2 17.8 C290 16 291.6 12.2 293.4 12.4 C295.2 12.6 296.6 15.6 298.8 16.2" fill="none" stroke="#2f9a3a" stroke-width="1.2"/>

<!-- zoom in -->
<g>
<path d="M328.2 17.3L332.6 21.7" stroke="#b8860b" stroke-width="3.4" stroke-linecap="butt"/>
<path d="M328.4 17.1L332.5 21.2" stroke="#f2d24a" stroke-width="1.6"/>
<circle cx="323.9" cy="13" r="5.5" fill="url(#gLens)" stroke="#3f7fd6" stroke-width="1.3"/>
<path d="M320.7 13H327.1M323.9 9.8V16.2" stroke="#3a78a6" stroke-width="1.5"/>
</g>
<!-- zoom out -->
<g>
<path d="M356.2 17.3L360.6 21.7" stroke="#b8860b" stroke-width="3.4"/>
<path d="M356.4 17.1L360.5 21.2" stroke="#f2d24a" stroke-width="1.6"/>
<circle cx="352" cy="13" r="5.5" fill="url(#gLens)" stroke="#3f7fd6" stroke-width="1.3"/>
<path d="M348.8 13H355.2" stroke="#3a78a6" stroke-width="1.5"/>
</g>
<!-- tile icon -->
<g>
<rect x="374" y="7" width="8" height="8" rx="0.8" fill="url(#gTileG)"/><rect x="375" y="9.8" width="6" height="4.2" fill="#f4fff0"/><rect x="376.2" y="11" width="3.6" height="0.9" fill="#9fd884"/><rect x="376.2" y="13.2" width="3.6" height="0.8" fill="#3f9a1f"/><rect x="374.8" y="8" width="1" height="1" fill="#d8f0c8"/>
<rect x="382.2" y="7" width="8" height="8" rx="0.8" fill="url(#gTileB)"/><rect x="383.2" y="9.8" width="6" height="4.2" fill="#f0f4ff"/><rect x="384.4" y="11" width="3.6" height="0.9" fill="#9fb4f0"/><rect x="384.4" y="13.2" width="3.6" height="0.8" fill="#1548c4"/><rect x="383" y="8" width="1" height="1" fill="#c8d8f8"/>
<rect x="374" y="15.2" width="8" height="8" rx="0.8" fill="url(#gTileB)"/><rect x="375" y="18" width="6" height="4.2" fill="#f0f4ff"/><rect x="376.2" y="19.2" width="3.6" height="0.9" fill="#9fb4f0"/><rect x="376.2" y="21.4" width="3.6" height="0.8" fill="#1548c4"/><rect x="374.8" y="16.2" width="1" height="1" fill="#c8d8f8"/>
<rect x="382.2" y="15.2" width="8" height="8" rx="0.8" fill="url(#gTileG)"/><rect x="383.2" y="18" width="6" height="4.2" fill="#f4fff0"/><rect x="384.4" y="19.2" width="3.6" height="0.9" fill="#9fd884"/><rect x="384.4" y="21.4" width="3.6" height="0.8" fill="#3f9a1f"/><rect x="383" y="16.2" width="1" height="1" fill="#d8f0c8"/>
</g>
<!-- shift / autoscroll -->
<use href="#axes" x="410" y="0"/>
<path d="M417.4 11.2L421 14.4L417.4 17.6Z" fill="#8fe6a0" stroke="#10a020" stroke-width="1"/>
<use href="#axes" x="438" y="0"/>
<path d="M446.5 9V18.8" stroke="#1a6fb8" stroke-width="1.3"/>
<path d="M447.4 14.4H452M447.4 14.4L450 12.4M447.4 14.4L450 16.4" stroke="#d85010" stroke-width="1.2" fill="none"/>

<!-- indicators icon -->
<g>
<path d="M471.5 7.5H479.6L482.6 10.4V20.4H471.5Z" fill="#fff" stroke="#9a9a9a" stroke-width="0.9"/>
<path d="M479.6 7.5V10.4H482.6" fill="#e8e8e8" stroke="#9a9a9a" stroke-width="0.7"/>
<text x="473.6" y="17.4" font-size="10" font-style="italic" fill="#555" font-family="'Liberation Serif',serif">f</text>
<path d="M479.6 13.4H482.9V17.3H486.8V20.6H482.9V24.5H479.6V20.6H475.6V17.3H479.6Z" fill="url(#gPlus)" stroke="#0a9a14" stroke-width="0.7"/>
</g>
<use href="#dd" x="493" y="14"/>
<!-- clock -->
<g>
<circle cx="517.1" cy="14.8" r="6.8" fill="#fdfdff" stroke="#1462d0" stroke-width="2.6"/>
<circle cx="517.1" cy="14.8" r="7.9" fill="none" stroke="#4a94ea" stroke-width="0.5"/>
<g stroke="#9aa" stroke-width="0.7"><path d="M517.1 9.8V10.8M517.1 18.8V19.8M512.1 14.8H513.1M521.1 14.8H522.1M513.6 11.3L514.2 11.9M520.6 11.3L520 11.9M513.6 18.3L514.2 17.7M520.6 18.3L520 17.7"/></g>
<path d="M516.6 11V15.2H519.8" fill="none" stroke="#333" stroke-width="1.1"/>
</g>
<use href="#dd" x="532" y="14"/>
<!-- template -->
<g>
<rect x="548.4" y="8.4" width="15.4" height="13" fill="#fff" stroke="#2f6fcf" stroke-width="1"/>
<rect x="548.4" y="8.4" width="15.4" height="2.2" fill="#3f80dc"/>
<path d="M548.6 16.2H563.6" stroke="#6f9fe0" stroke-width="0.8"/>
<path d="M550.4 14.4H552L553.6 13H555L556.4 13.8H558.4L560 12.8H562" fill="none" stroke="#b02010" stroke-width="1.1"/>
<path d="M551 19.4H552.6L554 18.4L555.4 19.4L557 18.6L558.8 17.2L560.6 19.2L562 19.6" fill="none" stroke="#109a20" stroke-width="1.1"/>
</g>
<use href="#dd" x="570.8" y="14"/>

<!-- cursor -->
<path d="M600 7.8V19.2L602.7 16.9L604.9 21.8L606.6 21L604.4 16.3L608 15.7Z" fill="#444"/>
<!-- crosshair -->
<path d="M625 15.4H631.4M633.4 15.4H640M632.4 8V14.4M632.4 16.4V23" stroke="#444" stroke-width="1.1" fill="none"/>
<!-- vline / hline / trend -->
<path d="M666.5 9V21.8" stroke="#444" stroke-width="1.15"/>
<path d="M689 15.4H701.2" stroke="#444" stroke-width="1.2"/>
<path d="M716.8 21.8L729 9.6" stroke="#444" stroke-width="1.1"/>
<!-- channel E -->
<g stroke="#444" fill="none">
<path d="M742.8 16.4L752 9.4M748 21.7L757.4 13.3" stroke-width="1.1"/>
<path d="M745.4 19L754.8 11" stroke-width="1" stroke-dasharray="1.2 1"/>
<path d="M745 20.6L746.8 12.6M748.4 21L750.6 10.6M752 18.2L754.2 7.2" stroke-width="1"/>
</g>
<text x="753.6" y="23.8" font-size="6.8" font-weight="bold" fill="#333">E</text>
<!-- fib F -->
<g stroke="#444" stroke-width="1" stroke-dasharray="1 1" fill="none">
<path d="M772 8.5H785.4M772 11.3H785.4M772 15.4H785.4M772 19.4H781"/>
</g>
<text x="781.8" y="23.8" font-size="6.8" font-weight="bold" fill="#333">F</text>
<!-- A -->
<text x="802.3" y="19.7" font-size="12.4" fill="#444" stroke="#444" stroke-width="0.25">A</text>
<!-- T box -->
<g fill="#444" shape-rendering="crispEdges"><rect x="829" y="9" width="1" height="1"/><rect x="829" y="21" width="1" height="1"/><rect x="831" y="9" width="1" height="1"/><rect x="831" y="21" width="1" height="1"/><rect x="833" y="9" width="1" height="1"/><rect x="833" y="21" width="1" height="1"/><rect x="835" y="9" width="1" height="1"/><rect x="835" y="21" width="1" height="1"/><rect x="837" y="9" width="1" height="1"/><rect x="837" y="21" width="1" height="1"/><rect x="839" y="9" width="1" height="1"/><rect x="839" y="21" width="1" height="1"/><rect x="829" y="9" width="1" height="1"/><rect x="840" y="9" width="1" height="1"/><rect x="829" y="11" width="1" height="1"/><rect x="840" y="11" width="1" height="1"/><rect x="829" y="13" width="1" height="1"/><rect x="840" y="13" width="1" height="1"/><rect x="829" y="15" width="1" height="1"/><rect x="840" y="15" width="1" height="1"/><rect x="829" y="17" width="1" height="1"/><rect x="840" y="17" width="1" height="1"/><rect x="829" y="19" width="1" height="1"/><rect x="840" y="19" width="1" height="1"/><rect x="829" y="21" width="1" height="1"/><rect x="840" y="21" width="1" height="1"/><rect x="829" y="8" width="2" height="1"/></g>
<text x="831.3" y="19.6" font-size="10.4" font-weight="bold" fill="#444">T</text>
<!-- arrows -->
<g fill="#444">
<path d="M859.6 8.8L863.2 11.8L859.6 13.6L856 11.8Z"/>
<path d="M866.4 22L862.8 19L866.4 17.2L870 19Z"/>
<path d="M858.4 16.6L860.4 18.6L865 13.6" fill="none" stroke="#444" stroke-width="1.3"/>
</g>
<use href="#dd" x="876.8" y="14"/>

<!-- timeframes -->
<g font-size="9.9" fill="#333" stroke="#333" stroke-width="0.12">
<text transform="translate(903.0 19) rotate(0.03)" textLength="14" lengthAdjust="spacingAndGlyphs">M1</text>
<text transform="translate(930.6 19) rotate(0.03)" textLength="14" lengthAdjust="spacingAndGlyphs">M5</text>
<text transform="translate(956.6 19) rotate(0.03)" textLength="19" lengthAdjust="spacingAndGlyphs">M15</text>
<text transform="translate(984.6 19) rotate(0.03)" textLength="19.4" lengthAdjust="spacingAndGlyphs">M30</text>
<text transform="translate(1015.4 19) rotate(0.03)" textLength="13.6" lengthAdjust="spacingAndGlyphs">H1</text>
<text transform="translate(1042.8 19) rotate(0.03)" textLength="13.8" lengthAdjust="spacingAndGlyphs">H4</text>
<text transform="translate(1071.4 19) rotate(0.03)" textLength="13.2" lengthAdjust="spacingAndGlyphs">D1</text>
<text transform="translate(1099.6 19) rotate(0.03)" textLength="15.4" lengthAdjust="spacingAndGlyphs">W1</text>
<text transform="translate(1126.2 19) rotate(0.03)" textLength="15.8" lengthAdjust="spacingAndGlyphs">MN</text>
</g>

<!-- search -->
<g>
<path d="M1616.6 15.7L1612.2 20.1" stroke="#2a5ad0" stroke-width="2.4" stroke-linecap="round"/>
<circle cx="1619.6" cy="12.6" r="3.7" fill="#fff" stroke="#2a5ad0" stroke-width="1.3"/>
</g>
<!-- chat + badge -->
<g>
<path d="M1636.4 17.2C1636.4 14.4 1638.6 12.6 1641.4 12.6C1644.4 12.6 1646.4 14.6 1646.4 17.2C1646.4 19.8 1644.2 21.4 1641.8 21.4L1639.6 23.4L1639.8 21.2C1637.8 20.6 1636.4 19.2 1636.4 17.2Z" fill="#dfe2ee" stroke="#a8a8b0" stroke-width="0.8"/>
<circle cx="1650.6" cy="12.6" r="8.3" fill="url(#gBadge)"/>
<text x="1649.6" y="16.9" font-size="12" fill="#fff" text-anchor="middle">1</text>
</g>
</svg>

</body>
</html>
